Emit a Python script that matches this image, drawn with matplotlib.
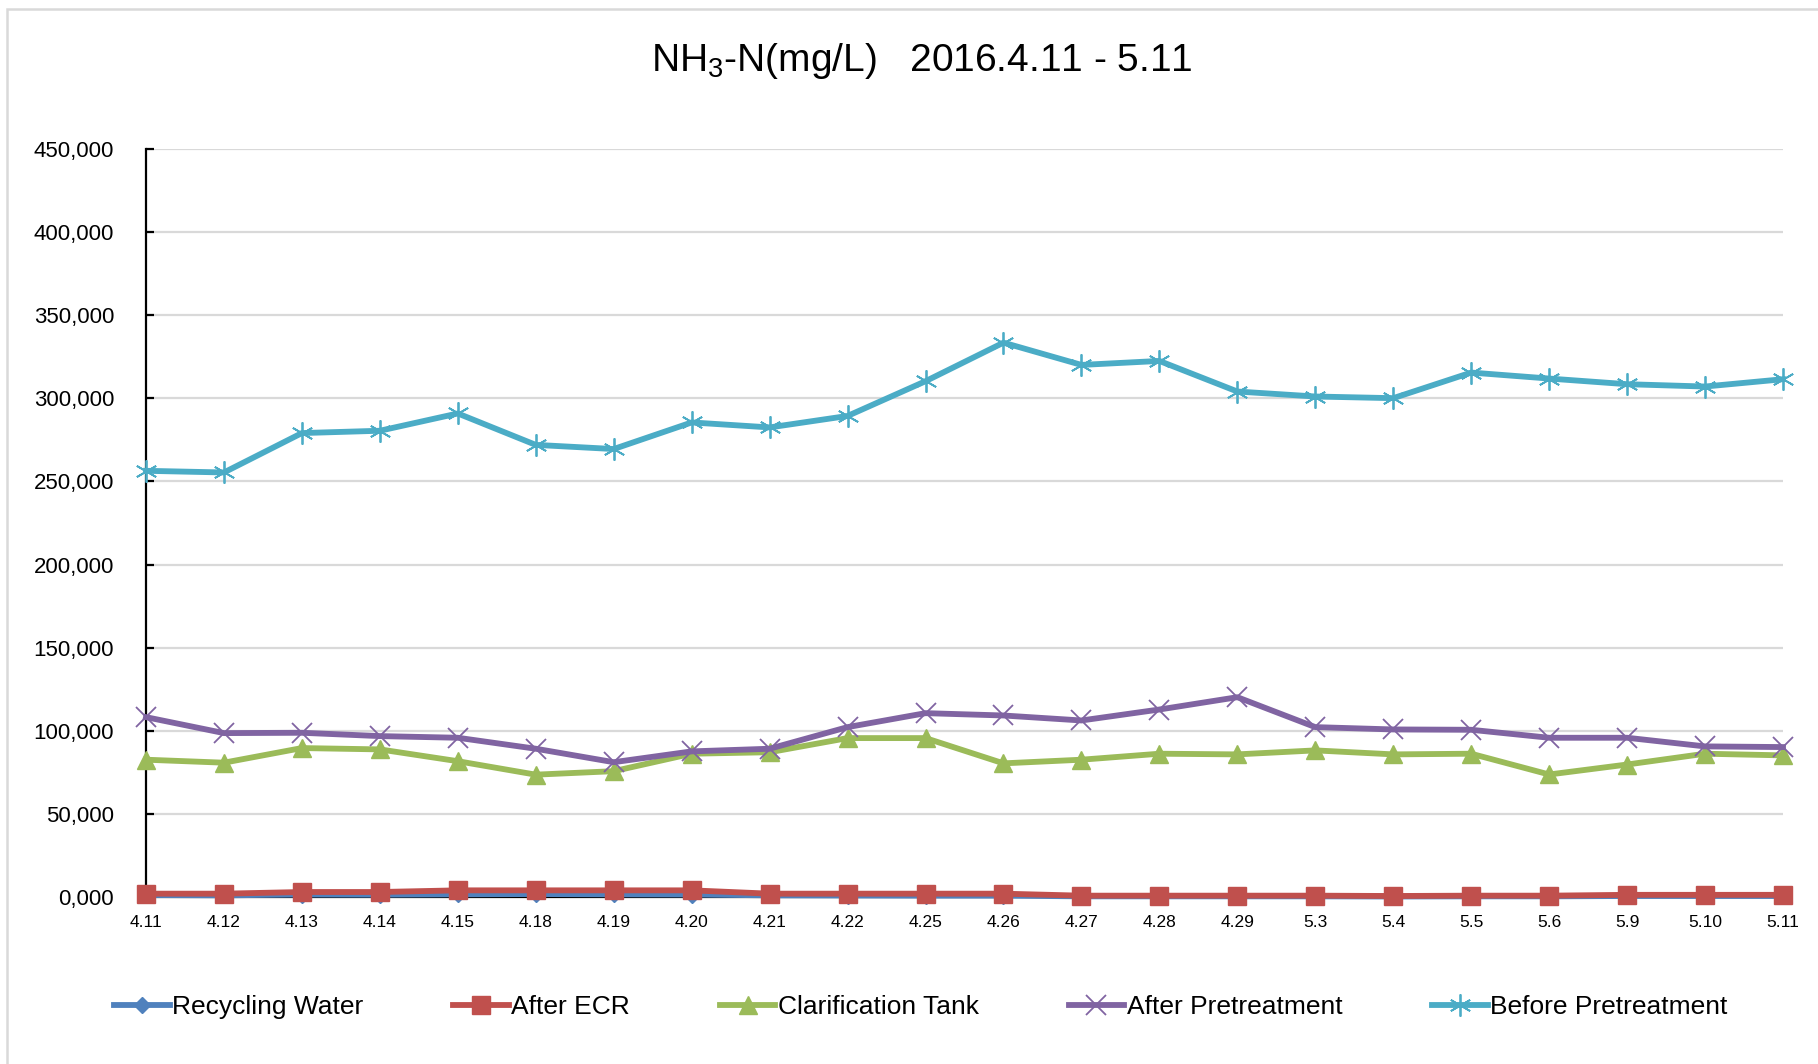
import matplotlib
matplotlib.use("Agg")
import matplotlib.pyplot as plt
from matplotlib.ticker import FuncFormatter, MultipleLocator

plt.rcParams["font.family"] = ["Liberation Sans", "DejaVu Sans"]
plt.rcParams["mathtext.default"] = "regular"

# sampling dates
dates = ["4.11", "4.12", "4.13", "4.14", "4.15", "4.18", "4.19", "4.20", "4.21", "4.22",
         "4.25", "4.26", "4.27", "4.28", "4.29", "5.3", "5.4", "5.5", "5.6", "5.9",
         "5.10", "5.11"]

# NH3-N values (mg/L)
recycling_water = [1.2, 1.0, 1.5, 1.4, 1.6, 1.8, 1.6, 1.5, 1.0, 0.9, 0.8,
                   0.8, 0.4, 0.4, 0.4, 0.4, 0.3, 0.4, 0.4, 0.6, 0.6, 0.6]
after_ecr = [2.0, 2.0, 3.0, 3.0, 4.0, 4.0, 4.0, 4.0, 2.0, 2.0, 2.0,
             2.0, 0.8, 0.8, 0.8, 0.8, 0.6, 0.8, 0.8, 1.3, 1.3, 1.3]
clarification_tank = [82.6, 80.8, 89.6, 88.8, 81.7, 73.6, 75.7, 86.2, 87.1, 95.6, 95.6,
                      80.4, 82.6, 86.2, 85.8, 88.2, 85.8, 86.2, 73.7, 79.7, 86.2, 85.2]
after_pretreatment = [108.2, 98.6, 98.8, 96.8, 95.8, 89.2, 81.1, 87.6, 89.2, 102.2, 110.6,
                      109.2, 106.2, 112.8, 120.2, 102.2, 100.8, 100.6, 95.8, 95.8, 90.6, 90.2]
before_pretreatment = [256.4, 255.4, 279.1, 280.5, 290.9, 272.0, 269.5, 285.5, 282.5, 289.4, 310.3,
                       333.5, 320.1, 322.5, 304.1, 301.1, 300.1, 315.5, 311.9, 308.5, 307.1, 311.5]

W, H = 1818, 1064
fig = plt.figure(figsize=(W / 100, H / 100), dpi=100)
ax = fig.add_axes([146 / W, 1 - 897 / H, (1783 - 146) / W, (897 - 149) / H])

x = range(len(dates))
star = (6, 2, 0)
series = [
    ("Recycling Water", recycling_water, "#4F81BD", "D", 8),
    ("After ECR", after_ecr, "#C0504D", "s", 13),
    ("Clarification Tank", clarification_tank, "#9BBB59", "^", 13),
    ("After Pretreatment", after_pretreatment, "#8064A2", "x", 15),
    ("Before Pretreatment", before_pretreatment, "#4BACC6", star, 16),
]
for i, (name, vals, col, mk, ms) in enumerate(series):
    ax.plot(x, vals, color=col, lw=4.2, marker=mk, markersize=ms,
            markeredgewidth=1.3 if mk in ("x", star) else 1, markeredgecolor=col,
            label=name, clip_on=False, zorder=3 + i)

ax.set_xlim(0, len(dates) - 1)
ax.set_ylim(0, 450)
ax.yaxis.set_major_locator(MultipleLocator(50))
ax.yaxis.set_major_formatter(FuncFormatter(lambda v, p: f"{v:.3f}".replace(".", ",")))
ax.set_xticks(list(x))
ax.set_xticklabels(dates)

ax.grid(axis="y", color="#d9d9d9", lw=1.6, zorder=0)
ax.set_axisbelow(True)
for s in ("top", "right"):
    ax.spines[s].set_visible(False)
for s in ("left", "bottom"):
    ax.spines[s].set_color("black")
    ax.spines[s].set_linewidth(1.6)
ax.tick_params(axis="y", direction="in", length=6, width=1.6, labelsize=16, pad=23)
ax.tick_params(axis="x", length=0, labelsize=12.5, pad=13)

fig.text(922 / W, 1 - 61 / H, "NH$_3$-N(mg/L)   2016.4.11 - 5.11",
         ha="center", va="center", fontsize=28)

fig.legend(loc="center", bbox_to_anchor=(921 / W, 1 - 1007 / H), ncol=5, frameon=False,
           fontsize=19, handlelength=2.1, handletextpad=0.1, columnspacing=3.4)

# light chart border
fig.add_artist(plt.Rectangle((7 / W, -0.05), 1.1, 1.05 - 8.5 / H,
                             transform=fig.transFigure, fill=False,
                             ec="#d9d9d9", lw=1.8))

fig.savefig("out.png", dpi=100)
